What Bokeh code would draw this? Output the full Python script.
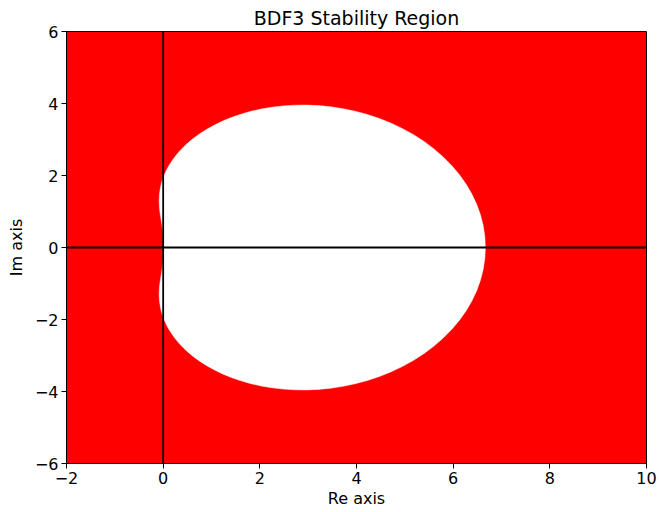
from bokeh.plotting import figure
from bokeh.embed import file_html
from bokeh.resources import INLINE
from bokeh.models import FixedTicker, CustomJSTickFormatter, Span

# Boundary of the BDF3 stability region (upper half), mirrored below
re_upper = [0.0, -0.0000, -0.0002, -0.0011, -0.0034, -0.0077, -0.0148, -0.0248,
            -0.0377, -0.0523, -0.0668, -0.0785, -0.0833, -0.0767, -0.0531, -0.0331,
            -0.0065, 0.0275, 0.0695, 0.1204, 0.1809, 0.2517, 0.3333, 0.4264,
            0.5313, 0.6485, 0.7781, 0.9203, 1.0751, 1.2423, 1.4216, 1.6128,
            1.8150, 2.0277, 2.25, 2.4808, 2.7191, 2.9634, 3.2125, 3.4649,
            3.7190, 3.9730, 4.2253, 4.4741, 4.7176, 4.9539, 5.1814, 5.3982,
            5.6027, 5.7932, 5.9682, 6.1261, 6.2659, 6.3861, 6.4860, 6.5645,
            6.6211, 6.6553, 6.6667]
im_upper = [0.0, 0.0873, 0.1746, 0.2622, 0.3506, 0.4408, 0.5343, 0.6332,
            0.7398, 0.8570, 0.9876, 1.1342, 1.2990, 1.4836, 1.6882, 1.7979,
            1.9121, 2.0305, 2.1527, 2.2781, 2.4061, 2.5359, 2.6667, 2.7974,
            2.9271, 3.0546, 3.1788, 3.2984, 3.4121, 3.5186, 3.6166, 3.7047,
            3.7817, 3.8463, 3.8971, 3.9331, 3.9533, 3.9565, 3.9420, 3.9090,
            3.8570, 3.7855, 3.6943, 3.5831, 3.4523, 3.3018, 3.1324, 2.9445,
            2.7389, 2.5167, 2.2789, 2.0269, 1.7622, 1.4862, 1.2006, 0.9074,
            0.6082, 0.3051, 0.0]

x_ticks = [-2, 0, 2, 4, 6, 8, 10]
y_ticks = [-6, -4, -2, 0, 2, 4, 6]

xs = re_upper + re_upper[::-1][1:]
ys = im_upper + [-v for v in im_upper[::-1][1:]]

p = figure(width=659, height=512, x_range=(-2, 10), y_range=(-6, 6),
           output_backend="svg", toolbar_location=None,
           title="BDF3 Stability Region")
p.min_border_left = 66
p.min_border_right = 13
p.min_border_top = 31
p.min_border_bottom = 49

p.background_fill_color = "#ff0000"
p.border_fill_color = "white"
p.outline_line_color = "black"
p.outline_line_width = 1
p.grid.visible = False

p.patch(xs, ys, fill_color="white", line_color="white", line_width=0.5)

p.add_layout(Span(location=0, dimension="width", line_color="black", line_width=1.8))
p.add_layout(Span(location=0, dimension="height", line_color="black", line_width=1.8))

fmt = CustomJSTickFormatter(code="return tick < 0 ? '\u2212' + Math.abs(tick) : String(tick);")
p.xaxis.ticker = FixedTicker(ticks=x_ticks)
p.yaxis.ticker = FixedTicker(ticks=y_ticks)
p.xaxis.formatter = fmt
p.yaxis.formatter = fmt

for ax in (p.xaxis[0], p.yaxis[0]):
    ax.major_label_text_font = "DejaVu Sans"
    ax.major_label_text_font_size = "16px"
    ax.major_label_text_color = "black"
    ax.axis_label_text_font = "DejaVu Sans"
    ax.axis_label_text_font_size = "16px"
    ax.axis_label_text_font_style = "normal"
    ax.axis_label_text_color = "black"
    ax.minor_tick_line_color = None
    ax.major_tick_in = 0
    ax.major_tick_out = 5
    ax.major_tick_line_color = "black"
    ax.axis_line_color = "black"
    ax.major_label_standoff = 3

p.xaxis.axis_label = "Re axis"
p.yaxis.axis_label = "Im axis"
p.yaxis.major_label_orientation = "horizontal"
p.xaxis.axis_label_standoff = 2
p.yaxis.axis_label_standoff = 6

p.title.align = "center"
p.title.text_font = "DejaVu Sans"
p.title.text_font_size = "19px"
p.title.text_font_style = "normal"
p.title.text_color = "black"
p.title.standoff = 6

open("out.html", "w").write(file_html(p, INLINE))
